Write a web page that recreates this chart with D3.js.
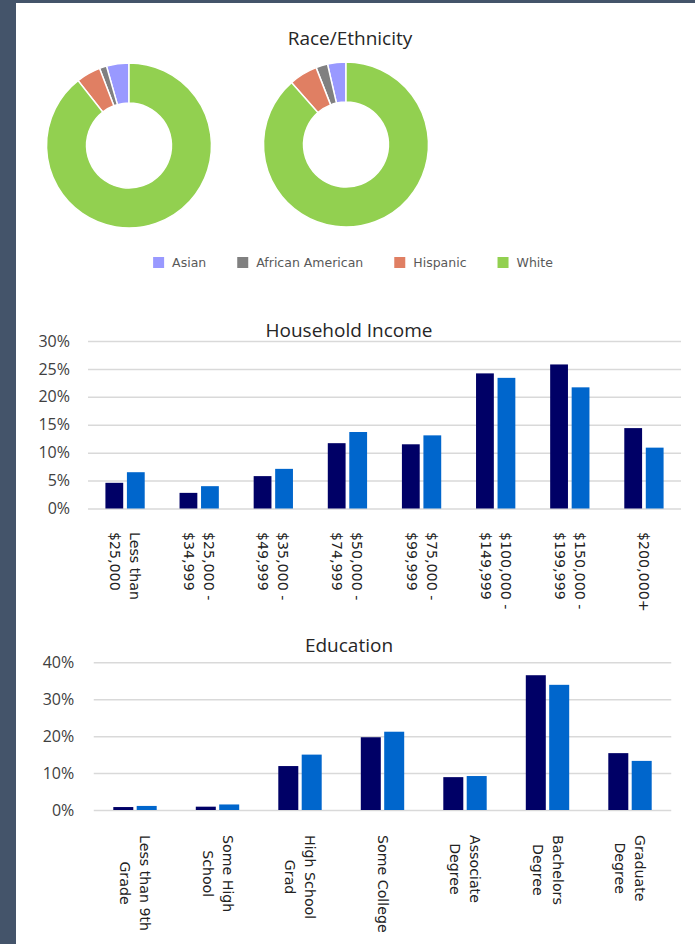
<!DOCTYPE html>
<html><head><meta charset="utf-8">
<script src="https://cdn.jsdelivr.net/npm/d3@7"></script>
<style>
body{margin:0;background:#44546A;overflow:hidden;}
svg{display:block;}
</style></head>
<body>
<svg id="chart" width="695" height="944"></svg>
<script>
// ---------- DATA ----------
const raceCategories = ["Asian", "African American", "Hispanic", "White"];
const raceLeft  = [4.4, 1.4, 4.8, 89.4];
const raceRight = [3.6, 2.3, 5.6, 88.5];
const raceColors = ["#9999FF", "#808080", "#E07F63", "#92D050"];

const incomeCategories = [
  ["Less than", "$25,000"], ["$25,000 -", "$34,999"], ["$35,000 -", "$49,999"],
  ["$50,000 -", "$74,999"], ["$75,000 -", "$99,999"], ["$100,000 -", "$149,999"],
  ["$150,000 -", "$199,999"], ["$200,000+"]
];
const incomeSeriesA = [4.6, 2.8, 5.8, 11.7, 11.5, 24.2, 25.8, 14.4];
const incomeSeriesB = [6.5, 4.0, 7.1, 13.7, 13.1, 23.4, 21.7, 10.9];
const incomeTicks = [0, 5, 10, 15, 20, 25, 30];

const eduCategories = [
  ["Less than 9th", "Grade"], ["Some High", "School"], ["High School", "Grad"],
  ["Some College"], ["Associate", "Degree"], ["Bachelors", "Degree"], ["Graduate", "Degree"]
];
const eduSeriesA = [0.8, 0.9, 11.9, 19.7, 8.9, 36.5, 15.4];
const eduSeriesB = [1.1, 1.5, 15.0, 21.2, 9.2, 33.9, 13.3];
const eduTicks = [0, 10, 20, 30, 40];

const seriesColors = ["#000066", "#0066CC"];

// ---------- DRAW ----------
const svg = d3.select("#chart");
svg.append("rect").attr("x", 16).attr("y", 3).attr("width", 679).attr("height", 941).attr("fill", "#fff");

const titleFont = "'Open Sans', sans-serif";
const tickFont = "'Open Sans', sans-serif";
const labelFont = "'DejaVu Sans', sans-serif";

function title(text, x, y) {
  svg.append("text").attr("x", x).attr("y", y).attr("text-anchor", "middle")
    .attr("font-family", titleFont).attr("font-size", 19).attr("fill", "#262626").text(text);
}

// Race donuts
title("Race/Ethnicity", 350, 45);
const pie = d3.pie().sort(null).startAngle(0).endAngle(-2 * Math.PI);
const arc = d3.arc().innerRadius(42.5).outerRadius(82.5);
[[raceLeft, 129, 145.5], [raceRight, 346, 144.5]].forEach(([vals, cx, cy]) => {
  const g = svg.append("g").attr("transform", `translate(${cx},${cy})`);
  g.selectAll("path").data(pie(vals)).join("path")
    .attr("d", arc).attr("fill", (d, i) => raceColors[i])
    .attr("stroke", "#fff").attr("stroke-width", 1.5);
});

// legend
const legend = svg.append("g");
let lx = 0;
raceCategories.forEach((c, i) => {
  const it = legend.append("g").attr("transform", `translate(${lx},0)`);
  it.append("rect").attr("x", 0).attr("y", -11).attr("width", 11).attr("height", 11).attr("fill", raceColors[i]);
  const t = it.append("text").attr("x", 19).attr("y", -1).attr("font-family", labelFont)
    .attr("font-size", 12.5).attr("fill", "#595959").text(c);
  lx += 19 + t.node().getComputedTextLength() + 31;
});
const lw = lx - 31;
legend.attr("transform", `translate(${353 - lw / 2},268)`);

// bar charts
function barChart(opts) {
  const { cats, a, b, ticks, x0, x1, yTop, yBottom, yMax, barW, gap, ttl, ttlY, labelTop, centered, pad } = opts;
  title(ttl, 349, ttlY);
  const x = d3.scaleBand().domain(d3.range(cats.length)).range([x0, x1]).padding(0);
  const y = d3.scaleLinear().domain([0, yMax]).range([yBottom, yTop]);
  const bw = x.bandwidth();
  const inner = barW * 2 + gap;
  const xs = d3.scaleBand().domain([0, 1]).range([bw / 2 - inner / 2, bw / 2 + inner / 2]).paddingInner(gap / (barW + gap));

  const axis = d3.axisLeft(y).tickValues(ticks).tickSize(-(x1 - x0)).tickPadding(pad).tickFormat(d => d + "%");
  const ga = svg.append("g").attr("transform", `translate(${x0},0)`).call(axis);
  ga.select(".domain").remove();
  ga.selectAll(".tick line").attr("stroke", "#D9D9D9").attr("stroke-width", 1.5);
  ga.selectAll(".tick text").attr("font-family", tickFont).attr("font-size", 16).attr("fill", "#404040");

  const groups = svg.append("g").selectAll("g").data(cats.map((c, i) => i)).join("g")
    .attr("transform", i => `translate(${x(i)},0)`);
  groups.selectAll("rect").data(i => [a[i], b[i]]).join("rect")
    .attr("x", (d, j) => xs(j)).attr("width", xs.bandwidth())
    .attr("y", d => y(d)).attr("height", d => yBottom - y(d))
    .attr("fill", (d, j) => seriesColors[j]);

  // category labels
  cats.forEach((lines, i) => {
    const cx = x(i) + bw / 2;
    const g = svg.append("g").attr("transform", `translate(${cx},${labelTop}) rotate(90)`);
    const n = lines.length;
    const texts = lines.map((ln, k) => g.append("text")
      .attr("y", (k - (n - 1) / 2) * 20).attr("dy", "0.35em")
      .attr("font-family", labelFont).attr("font-size", 14.2).attr("fill", "#222").text(ln));
    if (centered) {
      const lens = texts.map(t => t.node().getComputedTextLength());
      const m = d3.max(lens);
      texts.forEach((t, k) => t.attr("x", (m - lens[k]) / 2));
    }
  });
}

barChart({ cats: incomeCategories, a: incomeSeriesA, b: incomeSeriesB, ticks: incomeTicks,
  x0: 88, x1: 681, yTop: 341, yBottom: 508.5, yMax: 30, barW: 17.8, gap: 3.7,
  ttl: "Household Income", ttlY: 337, labelTop: 532, centered: false, pad: 18 });

barChart({ cats: eduCategories, a: eduSeriesA, b: eduSeriesB, ticks: eduTicks,
  x0: 93.75, x1: 671.25, yTop: 662.3, yBottom: 810, yMax: 40, barW: 20, gap: 3.4,
  ttl: "Education", ttlY: 652, labelTop: 835, centered: true, pad: 19.5 });
</script>
</body></html>
